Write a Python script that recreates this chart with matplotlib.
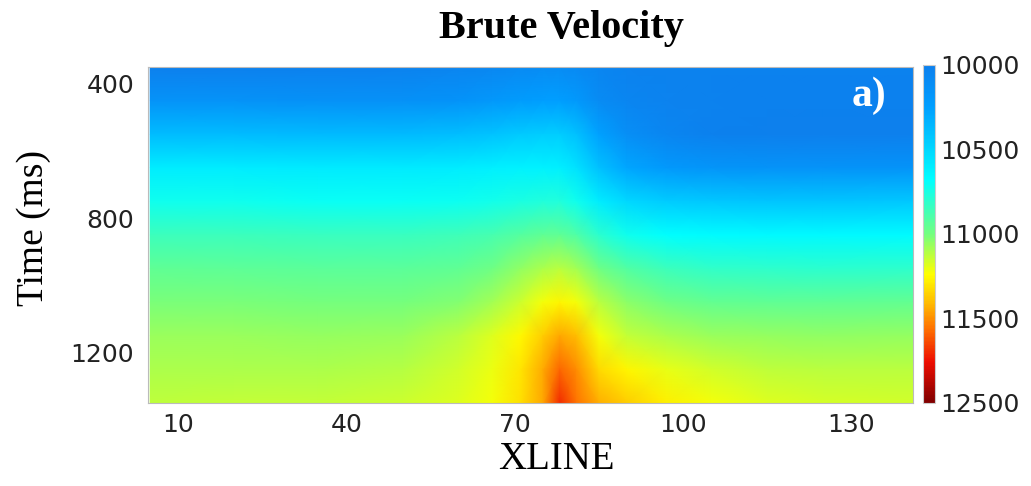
import numpy as np
import matplotlib
matplotlib.use("Agg")
import matplotlib.pyplot as plt
from matplotlib.colors import LinearSegmentedColormap

# velocity field (rows = time, cols = xline)
xline = [5, 20, 35, 50, 60, 66, 71, 75, 78, 81, 85, 90, 97, 105, 115, 125, 141]
time_ms = [350, 450, 550, 650, 750, 850, 950, 1050, 1150, 1250, 1350]

v350 = [10000, 10000, 10010, 10020, 10040, 10060, 10080, 10100, 10100, 10080, 10050, 10030, 10020, 10020, 10020, 10020, 10020]
v450 = [10150, 10150, 10140, 10140, 10160, 10190, 10220, 10240, 10240, 10200, 10100, 10050, 10030, 10020, 10010, 10010, 10010]
v550 = [10380, 10380, 10370, 10370, 10390, 10410, 10440, 10460, 10460, 10400, 10250, 10120, 10050, 10010, 9990, 9990, 10000]
v650 = [10600, 10600, 10590, 10590, 10600, 10610, 10620, 10620, 10610, 10550, 10400, 10280, 10200, 10170, 10150, 10150, 10160]
v750 = [10720, 10720, 10710, 10710, 10715, 10730, 10750, 10770, 10770, 10720, 10600, 10500, 10450, 10430, 10420, 10420, 10430]
v850 = [10850, 10850, 10840, 10840, 10855, 10880, 10920, 10950, 10950, 10900, 10800, 10720, 10680, 10670, 10660, 10660, 10670]
v950 = [10950, 10945, 10935, 10935, 10950, 10990, 11050, 11100, 11120, 11080, 10990, 10910, 10850, 10820, 10810, 10800, 10810]
v1050 = [11010, 11010, 11000, 11000, 11030, 11080, 11150, 11220, 11260, 11220, 11120, 11040, 10990, 10960, 10950, 10950, 10960]
v1150 = [11070, 11070, 11060, 11065, 11120, 11180, 11250, 11360, 11450, 11400, 11220, 11140, 11100, 11070, 11055, 11050, 11060]
v1250 = [11100, 11100, 11100, 11110, 11160, 11210, 11300, 11440, 11580, 11500, 11330, 11260, 11200, 11160, 11130, 11120, 11120]
v1350 = [11130, 11135, 11140, 11150, 11180, 11220, 11320, 11450, 11700, 11560, 11430, 11360, 11280, 11220, 11180, 11170, 11160]

xticks = [10, 40, 70, 100, 130]
yticks = [400, 800, 1200]
cb_ticks = [10000, 10500, 11000, 11500, 12000]
cb_labels = ["10000", "10500", "11000", "11500", "12500"]

vel = np.array([v350, v450, v550, v650, v750, v850, v950, v1050, v1150, v1250, v1350])
X, Y = np.meshgrid(xline, time_ms)

# jet-like map, starting at mid blue
cmap = LinearSegmentedColormap.from_list("vel", [
    (0.00, (0.05, 0.50, 0.93)),
    (0.12, (0.00, 0.62, 1.00)),
    (0.34, (0.00, 1.00, 1.00)),
    (0.50, (0.45, 1.00, 0.50)),
    (0.62, (1.00, 1.00, 0.00)),
    (0.70, (1.00, 0.75, 0.00)),
    (0.78, (1.00, 0.45, 0.00)),
    (0.88, (0.93, 0.05, 0.00)),
    (1.00, (0.50, 0.00, 0.00)),
])

fig = plt.figure(figsize=(10.31, 4.86), dpi=100)
ax = fig.add_axes([0.1435, 0.1708, 0.742, 0.6913])
cax = fig.add_axes([0.8952, 0.1708, 0.0116, 0.6955])

mesh = ax.pcolormesh(X, Y, vel, shading="gouraud", cmap=cmap, vmin=10000, vmax=12000)
ax.set_xlim(4.6, 141)
ax.set_ylim(1350, 350)
ax.set_xticks(xticks)
ax.set_yticks(yticks)
ax.tick_params(length=0, labelsize=18, labelcolor="#222222")
ax.tick_params(axis="x", pad=7)
ax.tick_params(axis="y", pad=10)
for sp in ax.spines.values():
    sp.set_color("#bbbbbb")
    sp.set_linewidth(0.8)

ax.text(0.965, 0.915, "a)", transform=ax.transAxes, ha="right", va="center",
        color="white", fontsize=30, fontweight="bold", family="Liberation Serif")

cb = fig.colorbar(mesh, cax=cax)
cb.set_ticks(cb_ticks)
cb.set_ticklabels(cb_labels)
cax.invert_yaxis()
cax.tick_params(length=0, labelsize=18, labelcolor="#222222", pad=4)
cb.outline.set_edgecolor("#cccccc")
cb.outline.set_linewidth(0.8)

fig.text(0.545, 0.942, "Brute Velocity", ha="center", va="center",
         fontsize=29, fontweight="bold", family="Liberation Serif")
fig.text(0.540, 0.055, "XLINE", ha="center", va="center",
         fontsize=28, family="Liberation Serif")
fig.text(0.033, 0.531, "Time (ms)", ha="center", va="center", rotation=90,
         fontsize=27, family="Liberation Serif")

fig.savefig("out.png", dpi=100)
